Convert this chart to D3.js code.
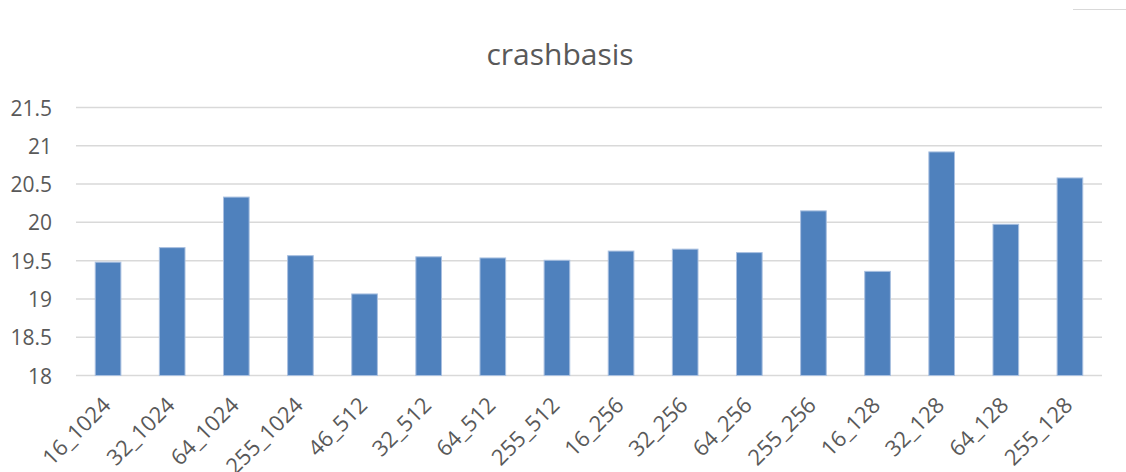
<!DOCTYPE html>
<html>
<head>
<meta charset="utf-8">
<script src="https://cdn.jsdelivr.net/npm/d3@7"></script>
<style>
  body { margin: 0; background: #fff; }
  text { font-family: "Open Sans", "Liberation Sans", sans-serif; fill: #595959; }
</style>
</head>
<body>
<div id="svg-holder"></div>
<script>
// data
const categories = ["16_1024", "32_1024", "64_1024", "255_1024", "46_512", "32_512", "64_512", "255_512",
  "16_256", "32_256", "64_256", "255_256", "16_128", "32_128", "64_128", "255_128"];
const values = [19.48, 19.67, 20.33, 19.565, 19.065, 19.55, 19.535, 19.505,
  19.625, 19.65, 19.605, 20.15, 19.36, 20.92, 19.975, 20.58];
const yTicks = [18, 18.5, 19, 19.5, 20, 20.5, 21, 21.5];

const W = 1126, H = 472;
const plotLeft = 76, plotRight = 1102, plotTop = 107.5, plotBottom = 375.5;

let svg = d3.select("#svg-holder").append("svg")
  .attr("width", W)
  .attr("height", H);

let x = d3.scaleBand().domain(categories).range([plotLeft, plotRight]).paddingInner(0.6).paddingOuter(0.3);
let y = d3.scaleLinear().domain([18, 21.5]).range([plotBottom, plotTop]);

// small frame piece top right
svg.append("line")
  .attr("x1", 1073).attr("x2", W)
  .attr("y1", 9.5).attr("y2", 9.5)
  .attr("stroke", "#d9d9d9");

// title
svg.append("text")
  .attr("x", 560).attr("y", 65)
  .attr("text-anchor", "middle")
  .style("font-size", "30px")
  .text("crashbasis");

// gridlines
svg.append("g").selectAll("line")
  .data(yTicks)
  .join("line")
  .attr("x1", plotLeft).attr("x2", plotRight)
  .attr("y1", d => y(d)).attr("y2", d => y(d))
  .attr("stroke", "#d9d9d9")
  .attr("stroke-width", 1.5);

// y axis labels
let yAxis = d3.axisLeft(y).tickValues(yTicks).tickSize(0).tickPadding(0).tickFormat(d3.format("~g"));
svg.append("g")
  .attr("transform", `translate(52,0)`)
  .call(yAxis)
  .call(g => g.select(".domain").remove())
  .selectAll("text")
  .attr("dy", "0.36em")
  .style("font-size", "21px")
  .style("fill", "#595959");

// bars
svg.append("g").selectAll("rect")
  .data(values)
  .join("rect")
  .attr("x", (d, i) => x(categories[i]))
  .attr("width", x.bandwidth())
  .attr("y", d => y(d))
  .attr("height", d => y(18) - y(d))
  .attr("fill", "#4f81bd")
  .attr("stroke", "#a9c0e0")
  .attr("stroke-width", 1);

// x axis labels
let xAxis = d3.axisBottom(x).tickSize(0).tickPadding(0);
svg.append("g")
  .attr("transform", `translate(0,${plotBottom})`)
  .call(xAxis)
  .call(g => g.select(".domain").remove())
  .selectAll("text")
  .attr("text-anchor", "end")
  .attr("dy", null)
  .attr("y", 0)
  .attr("transform", d => `translate(4,31) rotate(-45)`)
  .style("font-size", "22px")
  .style("fill", "#595959");
</script>
</body>
</html>
